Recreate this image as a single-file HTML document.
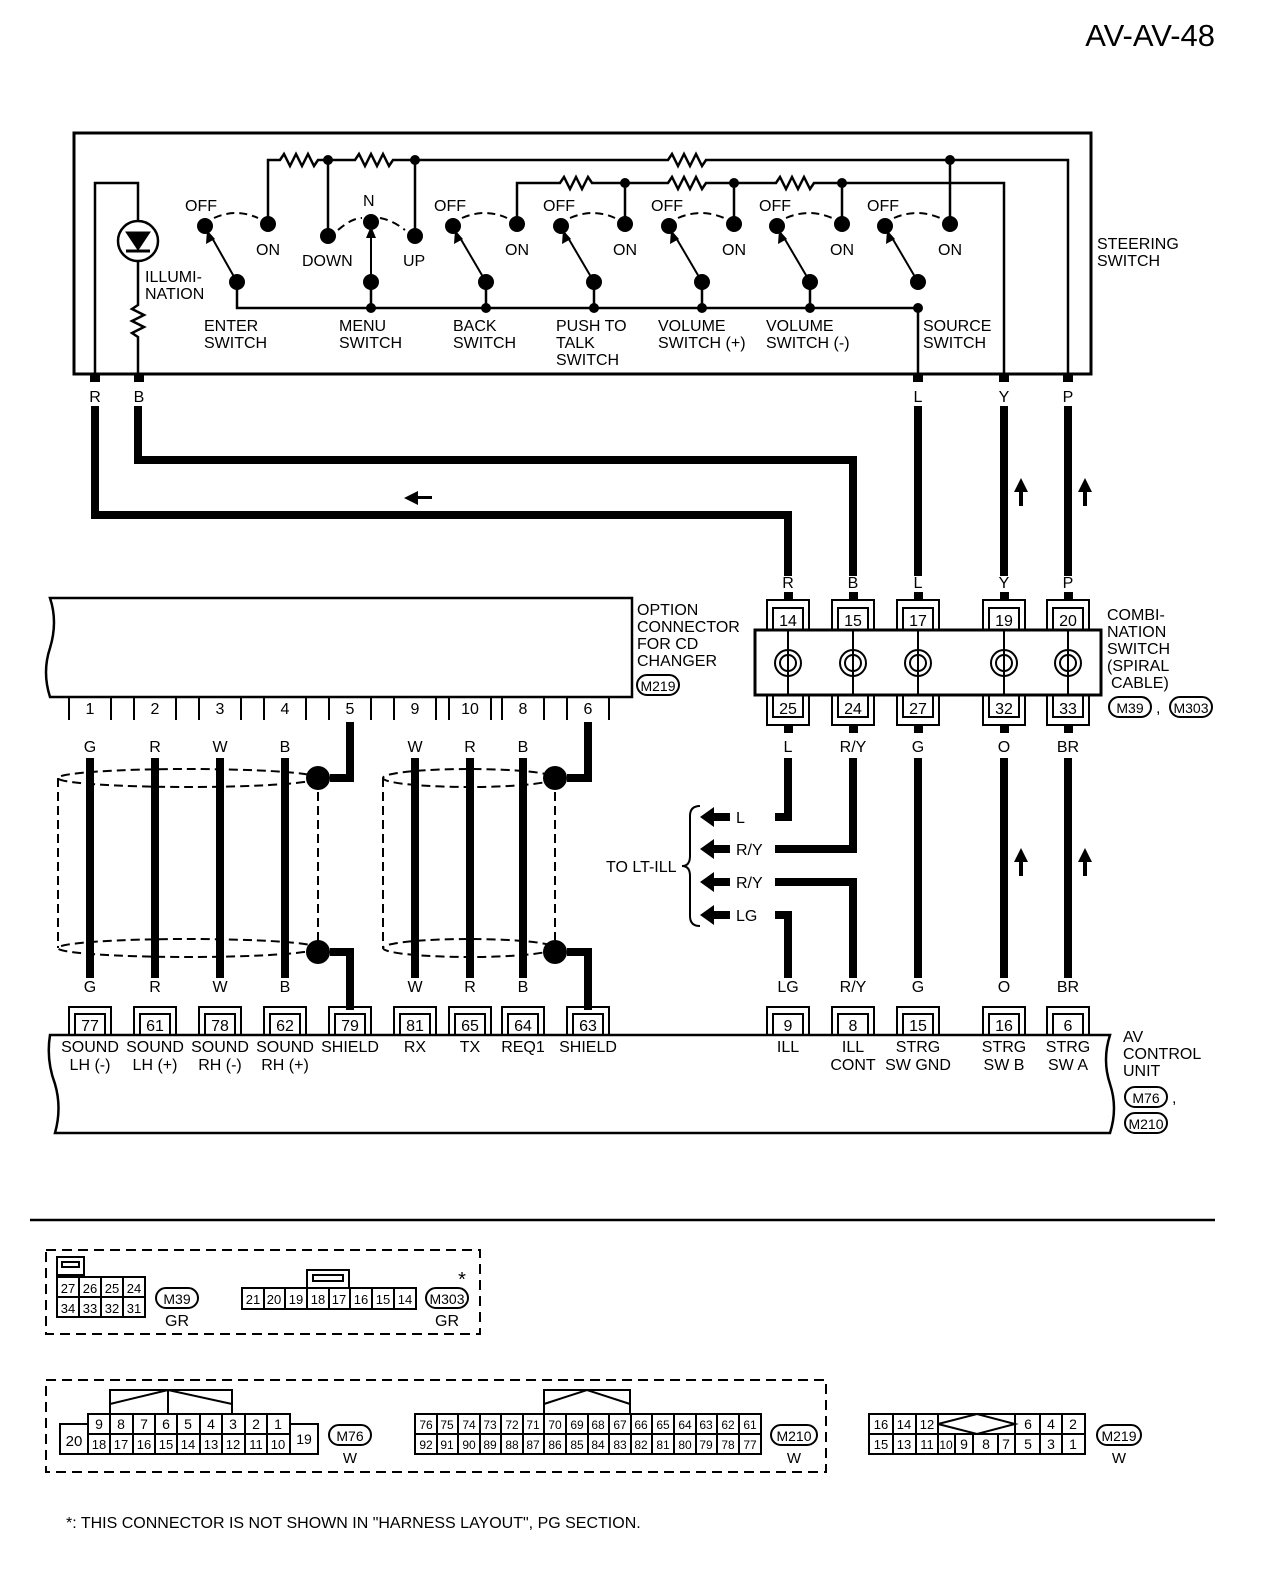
<!DOCTYPE html>
<html><head><meta charset="utf-8"><style>
html,body{margin:0;padding:0;background:#fff}
svg{display:block}
text{font-family:"Liberation Sans",sans-serif;font-size:16px;fill:#000}
</style></head><body>
<svg width="1264" height="1596" viewBox="0 0 1264 1596" xmlns="http://www.w3.org/2000/svg">
<g stroke="#000" fill="none">
<text x="1215" y="46" text-anchor="end" style="font-size:31px" stroke="none">AV-AV-48</text>

<!-- steering switch box -->
<rect x="74" y="133" width="1017" height="241" stroke-width="3"/>
<g stroke-width="2.5">
<path d="M268,224 V160 H280 l4,-6 6,12 6,-12 6,12 6,-12 6,12 4,-6 H355 l4,-6 6,12 6,-12 6,12 6,-12 6,12 4,-6 H668 l4,-6 6,12 6,-12 6,12 6,-12 6,12 4,-6 H1068 V374"/>
<path d="M328,236 V160 M415,236 V160 M950,224 V160"/>
<path d="M517,224 V183 H560 l4,-6 6,12 6,-12 6,12 6,-12 4,6 H668 l4,-6 6,12 6,-12 6,12 6,-12 6,12 4,-6 H776 l4,-6 6,12 6,-12 6,12 6,-12 6,12 4,-6 H1004 V374"/>
<path d="M625,224 V183 M734,224 V183 M842,224 V183"/>
<path d="M237,282 V308 H918 V374 M371,282 V308 M486,282 V308 M594,282 V308 M702,282 V308 M810,282 V308"/>
<path d="M95,374 V183 H138 V221 M138,261 V305 l-6,4 12,6 -12,6 12,6 -12,6 6,4 V374"/>
<circle cx="138" cy="241" r="20"/>
</g>
<path d="M126,232 H150 L138,250 Z" fill="#000"/>
<path d="M126,251 H150" stroke-width="3"/>
<g fill="#000" stroke="none">
<circle cx="205" cy="226" r="8"/><circle cx="268" cy="224" r="8"/><circle cx="237" cy="282" r="8"/>
<circle cx="328" cy="236" r="8"/><circle cx="371" cy="222" r="8"/><circle cx="415" cy="236" r="8"/><circle cx="371" cy="282" r="8"/>
<circle cx="453" cy="226" r="8"/><circle cx="517" cy="224" r="8"/><circle cx="486" cy="282" r="8"/>
<circle cx="561" cy="226" r="8"/><circle cx="625" cy="224" r="8"/><circle cx="594" cy="282" r="8"/>
<circle cx="669" cy="226" r="8"/><circle cx="734" cy="224" r="8"/><circle cx="702" cy="282" r="8"/>
<circle cx="777" cy="226" r="8"/><circle cx="842" cy="224" r="8"/><circle cx="810" cy="282" r="8"/>
<circle cx="885" cy="226" r="8"/><circle cx="950" cy="224" r="8"/><circle cx="918" cy="282" r="8"/>
<circle cx="328" cy="160" r="5"/><circle cx="415" cy="160" r="5"/><circle cx="950" cy="160" r="5"/>
<circle cx="625" cy="183" r="5"/><circle cx="734" cy="183" r="5"/><circle cx="842" cy="183" r="5"/>
<circle cx="371" cy="308" r="5"/><circle cx="486" cy="308" r="5"/><circle cx="594" cy="308" r="5"/><circle cx="702" cy="308" r="5"/><circle cx="810" cy="308" r="5"/><circle cx="918" cy="308" r="5"/>
</g>
<g stroke-width="2">
<path d="M237,282 L211,236 M371,282 V232 M486,282 L459,236 M594,282 L567,236 M702,282 L675,236 M810,282 L783,236 M918,282 L891,236"/>
<path d="M214,218 Q236,208 258,218 M338,230 Q352,218 362,218 M380,218 Q392,220 405,230 M462,218 Q485,208 507,218 M570,218 Q593,208 615,218 M678,218 Q701,208 724,218 M786,218 Q809,208 832,218 M894,218 Q917,208 940,218" stroke-dasharray="8,5"/>
</g>
<g fill="#000" stroke="none">
<path d="M207,230 l-1,14 9,-5Z M371,226 l-5,12 h10Z M455,230 l-1,14 9,-5Z M563,230 l-1,14 9,-5Z M671,230 l-1,14 9,-5Z M779,230 l-1,14 9,-5Z M887,230 l-1,14 9,-5Z"/>
</g>
<g stroke="none">
<text x="185" y="211">OFF</text><text x="256" y="255">ON</text>
<text x="363" y="206">N</text><text x="302" y="266">DOWN</text><text x="403" y="266">UP</text>
<text x="434" y="211">OFF</text><text x="505" y="255">ON</text>
<text x="543" y="211">OFF</text><text x="613" y="255">ON</text>
<text x="651" y="211">OFF</text><text x="722" y="255">ON</text>
<text x="759" y="211">OFF</text><text x="830" y="255">ON</text>
<text x="867" y="211">OFF</text><text x="938" y="255">ON</text>
<text x="145" y="282">ILLUMI-</text><text x="145" y="299">NATION</text>
<text x="204" y="331">ENTER</text><text x="204" y="348">SWITCH</text>
<text x="339" y="331">MENU</text><text x="339" y="348">SWITCH</text>
<text x="453" y="331">BACK</text><text x="453" y="348">SWITCH</text>
<text x="556" y="331">PUSH TO</text><text x="556" y="348">TALK</text><text x="556" y="365">SWITCH</text>
<text x="658" y="331">VOLUME</text><text x="658" y="348">SWITCH (+)</text>
<text x="766" y="331">VOLUME</text><text x="766" y="348">SWITCH (-)</text>
<text x="923" y="331">SOURCE</text><text x="923" y="348">SWITCH</text>
<text x="1097" y="249">STEERING</text><text x="1097" y="266">SWITCH</text>
<text x="95" y="402" text-anchor="middle">R</text><text x="139" y="402" text-anchor="middle">B</text>
<text x="918" y="402" text-anchor="middle">L</text><text x="1004" y="402" text-anchor="middle">Y</text><text x="1068" y="402" text-anchor="middle">P</text>
<text x="788" y="588" text-anchor="middle">R</text><text x="853" y="588" text-anchor="middle">B</text><text x="918" y="588" text-anchor="middle">L</text><text x="1004" y="588" text-anchor="middle">Y</text><text x="1068" y="588" text-anchor="middle">P</text>
</g>
<g fill="#000" stroke="none">
<rect x="90" y="374" width="10" height="8"/><rect x="134" y="374" width="10" height="8"/><rect x="913" y="374" width="10" height="8"/><rect x="999" y="374" width="10" height="8"/><rect x="1063" y="374" width="10" height="8"/>
</g>
<g stroke-width="8">
<path d="M95,406 V515 H788 V576 M138,406 V460 H853 V576 M918,406 V576 M1004,406 V576 M1068,406 V576"/>
</g>
<g fill="#000" stroke="none">
<path d="M404,498 l14,-7 v14 Z"/><rect x="416" y="496" width="16" height="3"/>
<path d="M1021,478 l-7,14 h14Z"/><rect x="1019" y="490" width="4" height="16"/>
<path d="M1085,478 l-7,14 h14Z"/><rect x="1083" y="490" width="4" height="16"/>
<path d="M1021,848 l-7,14 h14Z"/><rect x="1019" y="860" width="4" height="16"/>
<path d="M1085,848 l-7,14 h14Z"/><rect x="1083" y="860" width="4" height="16"/>
</g>

<rect x="755" y="630" width="346" height="65" stroke-width="3"/>
<g stroke-width="2">
<path d="M767,630 V600 H809 V630 M773,630 V608 H803 V630"/>
<path d="M832,630 V600 H874 V630 M838,630 V608 H868 V630"/>
<path d="M897,630 V600 H939 V630 M903,630 V608 H933 V630"/>
<path d="M983,630 V600 H1025 V630 M989,630 V608 H1019 V630"/>
<path d="M1047,630 V600 H1089 V630 M1053,630 V608 H1083 V630"/>
<path d="M767,695 V725 H809 V695 M773,695 V717 H803 V695"/>
<path d="M832,695 V725 H874 V695 M838,695 V717 H868 V695"/>
<path d="M897,695 V725 H939 V695 M903,695 V717 H933 V695"/>
<path d="M983,695 V725 H1025 V695 M989,695 V717 H1019 V695"/>
<path d="M1047,695 V725 H1089 V695 M1053,695 V717 H1083 V695"/>
<circle cx="788" cy="663" r="13"/><circle cx="788" cy="663" r="8"/><path d="M788,630 V695"/>
<circle cx="853" cy="663" r="13"/><circle cx="853" cy="663" r="8"/><path d="M853,630 V695"/>
<circle cx="918" cy="663" r="13"/><circle cx="918" cy="663" r="8"/><path d="M918,630 V695"/>
<circle cx="1004" cy="663" r="13"/><circle cx="1004" cy="663" r="8"/><path d="M1004,630 V695"/>
<circle cx="1068" cy="663" r="13"/><circle cx="1068" cy="663" r="8"/><path d="M1068,630 V695"/>
</g>
<g fill="#000" stroke="none">
<rect x="784" y="592" width="9" height="8"/><rect x="849" y="592" width="9" height="8"/><rect x="914" y="592" width="9" height="8"/><rect x="1000" y="592" width="9" height="8"/><rect x="1064" y="592" width="9" height="8"/>
<rect x="784" y="725" width="9" height="8"/><rect x="849" y="725" width="9" height="8"/><rect x="914" y="725" width="9" height="8"/><rect x="1000" y="725" width="9" height="8"/><rect x="1064" y="725" width="9" height="8"/>
</g>
<g stroke="none" text-anchor="middle">
<text x="788" y="626">14</text><text x="853" y="626">15</text><text x="918" y="626">17</text><text x="1004" y="626">19</text><text x="1068" y="626">20</text>
<text x="788" y="714">25</text><text x="853" y="714">24</text><text x="918" y="714">27</text><text x="1004" y="714">32</text><text x="1068" y="714">33</text>
<text x="788" y="752">L</text><text x="853" y="752">R/Y</text><text x="918" y="752">G</text><text x="1004" y="752">O</text><text x="1068" y="752">BR</text>
</g>
<g stroke="none">
<text x="1107" y="620">COMBI-</text><text x="1107" y="637">NATION</text><text x="1107" y="654">SWITCH</text><text x="1107" y="671">(SPIRAL</text><text x="1111" y="688"> CABLE)</text>
<text x="637" y="615">OPTION</text><text x="637" y="632">CONNECTOR</text><text x="637" y="649">FOR CD</text><text x="637" y="666">CHANGER</text>
</g>
<rect x="637" y="675" width="42" height="20" rx="10" stroke-width="2"/><text x="658" y="691" text-anchor="middle" stroke="none" style="font-size:14px">M219</text>
<rect x="1109" y="697" width="42" height="20" rx="10" stroke-width="2"/><text x="1130" y="713" text-anchor="middle" stroke="none" style="font-size:14px">M39</text>
<text x="1156" y="713" stroke="none">,</text>
<rect x="1170" y="697" width="42" height="20" rx="10" stroke-width="2"/><text x="1191" y="713" text-anchor="middle" stroke="none" style="font-size:14px">M303</text>

<path d="M50,598 H632 V697 H50 Q42,672 50,648 Q58,622 50,598 Z" stroke-width="2.5"/>
<g stroke-width="2">
<path d="M69,697 V720 M111,697 V720 M134,697 V720 M176,697 V720 M199,697 V720 M241,697 V720 M264,697 V720 M306,697 V720 M329,697 V720 M371,697 V720 M394,697 V720 M436,697 V720 M449,697 V720 M491,697 V720 M502,697 V720 M544,697 V720 M567,697 V720 M609,697 V720"/>
</g>
<g stroke="none" text-anchor="middle">
<text x="90" y="714">1</text><text x="155" y="714">2</text><text x="220" y="714">3</text><text x="285" y="714">4</text><text x="350" y="714">5</text><text x="415" y="714">9</text><text x="470" y="714">10</text><text x="523" y="714">8</text><text x="588" y="714">6</text>
<text x="90" y="752">G</text><text x="155" y="752">R</text><text x="220" y="752">W</text><text x="285" y="752">B</text><text x="415" y="752">W</text><text x="470" y="752">R</text><text x="523" y="752">B</text>
<text x="90" y="992">G</text><text x="155" y="992">R</text><text x="220" y="992">W</text><text x="285" y="992">B</text><text x="415" y="992">W</text><text x="470" y="992">R</text><text x="523" y="992">B</text>
<text x="788" y="992">LG</text><text x="853" y="992">R/Y</text><text x="918" y="992">G</text><text x="1004" y="992">O</text><text x="1068" y="992">BR</text>
</g>
<g stroke-width="8">
<path d="M90,758 V978 M155,758 V978 M220,758 V978 M285,758 V978 M415,758 V978 M470,758 V978 M523,758 V978"/>
<path d="M350,722 V778 H330 M588,722 V778 H567 M330,952 H350 V1010 M567,952 H588 V1010"/>
<path d="M788,758 V817 H775 M853,758 V849 H775 M775,882 H853 V978 M775,915 H788 V978 M918,758 V978 M1004,758 V978 M1068,758 V978"/>
</g>
<g stroke-width="2" stroke-dasharray="9,5">
<ellipse cx="188" cy="778" rx="130" ry="9"/><ellipse cx="188" cy="948" rx="130" ry="9"/>
<path d="M58,778 V948 M318,778 V948"/>
<ellipse cx="469" cy="778" rx="86" ry="9"/><ellipse cx="469" cy="948" rx="86" ry="9"/>
<path d="M383,778 V948 M555,778 V948"/>
</g>
<g fill="#000" stroke="none">
<circle cx="318" cy="778" r="12"/><circle cx="318" cy="952" r="12"/><circle cx="555" cy="778" r="12"/><circle cx="555" cy="952" r="12"/>
<path d="M700,817 l14,-10 v20Z M700,849 l14,-10 v20Z M700,882 l14,-10 v20Z M700,915 l14,-10 v20Z"/>
<rect x="712" y="813" width="18" height="8"/><rect x="712" y="845" width="18" height="8"/><rect x="712" y="878" width="18" height="8"/><rect x="712" y="911" width="18" height="8"/>
</g>
<path d="M700,806 Q690,806 690,816 V856 Q690,866 682,866 Q690,866 690,876 V916 Q690,926 700,926" stroke-width="2"/>
<g stroke="none">
<text x="606" y="872">TO LT-ILL</text>
<text x="736" y="823">L</text><text x="736" y="855">R/Y</text><text x="736" y="888">R/Y</text><text x="736" y="921">LG</text>
</g>

<path d="M50,1035 H1110 Q1102,1060 1110,1084 Q1118,1108 1110,1133 H55 Q62,1108 55,1084 Q46,1060 50,1035 Z" stroke-width="2.5"/>
<g stroke-width="2">
<path d="M69,1035 V1007 H111 V1035 M75,1035 V1014 H105 V1035"/>
<path d="M134,1035 V1007 H176 V1035 M140,1035 V1014 H170 V1035"/>
<path d="M199,1035 V1007 H241 V1035 M205,1035 V1014 H235 V1035"/>
<path d="M264,1035 V1007 H306 V1035 M270,1035 V1014 H300 V1035"/>
<path d="M329,1035 V1007 H371 V1035 M335,1035 V1014 H365 V1035"/>
<path d="M394,1035 V1007 H436 V1035 M400,1035 V1014 H430 V1035"/>
<path d="M449,1035 V1007 H491 V1035 M455,1035 V1014 H485 V1035"/>
<path d="M502,1035 V1007 H544 V1035 M508,1035 V1014 H538 V1035"/>
<path d="M567,1035 V1007 H609 V1035 M573,1035 V1014 H603 V1035"/>
<path d="M767,1035 V1007 H809 V1035 M773,1035 V1014 H803 V1035"/>
<path d="M832,1035 V1007 H874 V1035 M838,1035 V1014 H868 V1035"/>
<path d="M897,1035 V1007 H939 V1035 M903,1035 V1014 H933 V1035"/>
<path d="M983,1035 V1007 H1025 V1035 M989,1035 V1014 H1019 V1035"/>
<path d="M1047,1035 V1007 H1089 V1035 M1053,1035 V1014 H1083 V1035"/>
</g>
<g stroke="none" text-anchor="middle">
<text x="90" y="1031">77</text><text x="155" y="1031">61</text><text x="220" y="1031">78</text><text x="285" y="1031">62</text><text x="350" y="1031">79</text><text x="415" y="1031">81</text><text x="470" y="1031">65</text><text x="523" y="1031">64</text><text x="588" y="1031">63</text>
<text x="788" y="1031">9</text><text x="853" y="1031">8</text><text x="918" y="1031">15</text><text x="1004" y="1031">16</text><text x="1068" y="1031">6</text>
<text x="90" y="1052">SOUND</text><text x="90" y="1070">LH (-)</text>
<text x="155" y="1052">SOUND</text><text x="155" y="1070">LH (+)</text>
<text x="220" y="1052">SOUND</text><text x="220" y="1070">RH (-)</text>
<text x="285" y="1052">SOUND</text><text x="285" y="1070">RH (+)</text>
<text x="350" y="1052">SHIELD</text><text x="415" y="1052">RX</text><text x="470" y="1052">TX</text><text x="523" y="1052">REQ1</text><text x="588" y="1052">SHIELD</text>
<text x="788" y="1052">ILL</text>
<text x="853" y="1052">ILL</text><text x="853" y="1070">CONT</text>
<text x="918" y="1052">STRG</text><text x="918" y="1070">SW GND</text>
<text x="1004" y="1052">STRG</text><text x="1004" y="1070">SW B</text>
<text x="1068" y="1052">STRG</text><text x="1068" y="1070">SW A</text>
</g>
<g stroke="none">
<text x="1123" y="1042">AV</text><text x="1123" y="1059">CONTROL</text><text x="1123" y="1076">UNIT</text>
<text x="1172" y="1103">,</text>
</g>
<rect x="1125" y="1087" width="42" height="20" rx="10" stroke-width="2"/><text x="1146" y="1103" text-anchor="middle" stroke="none" style="font-size:14px">M76</text>
<rect x="1125" y="1113" width="42" height="20" rx="10" stroke-width="2"/><text x="1146" y="1129" text-anchor="middle" stroke="none" style="font-size:14px">M210</text>

<path d="M30,1220 H1215" stroke-width="2.5"/>

<rect x="46" y="1250" width="434" height="84" stroke-width="2" stroke-dasharray="10,6"/>
<g stroke-width="2">
<rect x="57" y="1257" width="27" height="18"/><rect x="62" y="1262" width="17" height="5"/>
<rect x="57" y="1277" width="88" height="40"/><path d="M57,1297 H145 M79,1277 V1317 M101,1277 V1317 M123,1277 V1317"/>
<rect x="307" y="1270" width="42" height="18"/><rect x="313" y="1275" width="30" height="6"/>
<rect x="242" y="1288" width="174" height="21"/><path d="M264,1288 V1309 M285,1288 V1309 M307,1288 V1309 M329,1288 V1309 M350,1288 V1309 M372,1288 V1309 M394,1288 V1309"/>
</g>
<g stroke="none" text-anchor="middle" style="font-size:13px">
<text x="68" y="1293" style="font-size:13px">27</text><text x="90" y="1293" style="font-size:13px">26</text><text x="112" y="1293" style="font-size:13px">25</text><text x="134" y="1293" style="font-size:13px">24</text>
<text x="68" y="1313" style="font-size:13px">34</text><text x="90" y="1313" style="font-size:13px">33</text><text x="112" y="1313" style="font-size:13px">32</text><text x="134" y="1313" style="font-size:13px">31</text>
<text x="253" y="1304" style="font-size:13px">21</text><text x="274" y="1304" style="font-size:13px">20</text><text x="296" y="1304" style="font-size:13px">19</text><text x="318" y="1304" style="font-size:13px">18</text><text x="339" y="1304" style="font-size:13px">17</text><text x="361" y="1304" style="font-size:13px">16</text><text x="383" y="1304" style="font-size:13px">15</text><text x="405" y="1304" style="font-size:13px">14</text>
<text x="177" y="1326">GR</text><text x="447" y="1326">GR</text><text x="462" y="1286" style="font-size:20px">*</text>
</g>
<rect x="156" y="1288" width="42" height="20" rx="10" stroke-width="2"/><text x="177" y="1304" text-anchor="middle" stroke="none" style="font-size:14px">M39</text>
<rect x="426" y="1288" width="42" height="20" rx="10" stroke-width="2"/><text x="447" y="1304" text-anchor="middle" stroke="none" style="font-size:14px">M303</text>

<rect x="46" y="1380" width="780" height="92" stroke-width="2" stroke-dasharray="10,6"/>
<g stroke-width="2">
<path d="M110,1414 V1390 H168 V1414 M168,1414 V1390 H232 V1414" /><path d="M110,1404 L168,1390 L232,1404"/>
<rect x="60" y="1424" width="28" height="30"/>
<rect x="88" y="1414" width="202" height="40"/><path d="M88,1434 H290"/>
<path d="M110,1414 V1454 M133,1414 V1454 M155,1414 V1454 M177,1414 V1454 M200,1414 V1454 M222,1414 V1454 M245,1414 V1454 M267,1414 V1454"/>
<rect x="290" y="1424" width="28" height="30"/>
<path d="M544,1414 V1390 H630 V1414"/><path d="M544,1404 L587,1390 L630,1404"/>
<rect x="415" y="1414" width="346" height="40"/><path d="M415,1434 H761"/>
<path d="M437,1414 V1454 M458,1414 V1454 M480,1414 V1454 M501,1414 V1454 M523,1414 V1454 M544,1414 V1454 M566,1414 V1454 M588,1414 V1454 M609,1414 V1454 M631,1414 V1454 M652,1414 V1454 M674,1414 V1454 M696,1414 V1454 M717,1414 V1454 M739,1414 V1454"/>
<rect x="869" y="1414" width="216" height="40"/><path d="M869,1434 H1085"/>
<path d="M893,1414 V1454 M916,1414 V1454 M938,1414 V1434 M1015,1414 V1434 M938,1434 V1454 M955,1434 V1454 M973,1434 V1454 M998,1434 V1454 M1015,1434 V1454 M1040,1414 V1454 M1062,1414 V1454"/>
<path d="M938,1424 L977,1414 L1015,1424 L977,1434 Z"/>
</g>
<g stroke="none" text-anchor="middle" style="font-size:13px">
<text x="74" y="1446" style="font-size:15px">20</text><text x="304" y="1444" style="font-size:14px">19</text>
<text x="99" y="1429" style="font-size:14px">9</text><text x="121" y="1429" style="font-size:14px">8</text><text x="144" y="1429" style="font-size:14px">7</text><text x="166" y="1429" style="font-size:14px">6</text><text x="188" y="1429" style="font-size:14px">5</text><text x="211" y="1429" style="font-size:14px">4</text><text x="233" y="1429" style="font-size:14px">3</text><text x="256" y="1429" style="font-size:14px">2</text><text x="278" y="1429" style="font-size:14px">1</text>
<text x="99" y="1449" style="font-size:13px">18</text><text x="121" y="1449" style="font-size:13px">17</text><text x="144" y="1449" style="font-size:13px">16</text><text x="166" y="1449" style="font-size:13px">15</text><text x="188" y="1449" style="font-size:13px">14</text><text x="211" y="1449" style="font-size:13px">13</text><text x="233" y="1449" style="font-size:13px">12</text><text x="256" y="1449" style="font-size:13px">11</text><text x="278" y="1449" style="font-size:13px">10</text>
<text x="426" y="1429" style="font-size:12px">76</text><text x="447" y="1429" style="font-size:12px">75</text><text x="469" y="1429" style="font-size:12px">74</text><text x="490" y="1429" style="font-size:12px">73</text><text x="512" y="1429" style="font-size:12px">72</text><text x="533" y="1429" style="font-size:12px">71</text><text x="555" y="1429" style="font-size:12px">70</text><text x="577" y="1429" style="font-size:12px">69</text><text x="598" y="1429" style="font-size:12px">68</text><text x="620" y="1429" style="font-size:12px">67</text><text x="641" y="1429" style="font-size:12px">66</text><text x="663" y="1429" style="font-size:12px">65</text><text x="685" y="1429" style="font-size:12px">64</text><text x="706" y="1429" style="font-size:12px">63</text><text x="728" y="1429" style="font-size:12px">62</text><text x="750" y="1429" style="font-size:12px">61</text>
<text x="426" y="1449" style="font-size:12px">92</text><text x="447" y="1449" style="font-size:12px">91</text><text x="469" y="1449" style="font-size:12px">90</text><text x="490" y="1449" style="font-size:12px">89</text><text x="512" y="1449" style="font-size:12px">88</text><text x="533" y="1449" style="font-size:12px">87</text><text x="555" y="1449" style="font-size:12px">86</text><text x="577" y="1449" style="font-size:12px">85</text><text x="598" y="1449" style="font-size:12px">84</text><text x="620" y="1449" style="font-size:12px">83</text><text x="641" y="1449" style="font-size:12px">82</text><text x="663" y="1449" style="font-size:12px">81</text><text x="685" y="1449" style="font-size:12px">80</text><text x="706" y="1449" style="font-size:12px">79</text><text x="728" y="1449" style="font-size:12px">78</text><text x="750" y="1449" style="font-size:12px">77</text>
<text x="881" y="1429" style="font-size:13px">16</text><text x="904" y="1429" style="font-size:13px">14</text><text x="927" y="1429" style="font-size:13px">12</text><text x="1028" y="1429" style="font-size:14px">6</text><text x="1051" y="1429" style="font-size:14px">4</text><text x="1073" y="1429" style="font-size:14px">2</text>
<text x="881" y="1449" style="font-size:13px">15</text><text x="904" y="1449" style="font-size:13px">13</text><text x="927" y="1449" style="font-size:13px">11</text><text x="946" y="1449" style="font-size:12px">10</text><text x="964" y="1449" style="font-size:14px">9</text><text x="986" y="1449" style="font-size:14px">8</text><text x="1006" y="1449" style="font-size:14px">7</text><text x="1028" y="1449" style="font-size:14px">5</text><text x="1051" y="1449" style="font-size:14px">3</text><text x="1073" y="1449" style="font-size:14px">1</text>
<text x="350" y="1463" style="font-size:15px">W</text><text x="794" y="1463" style="font-size:15px">W</text><text x="1119" y="1463" style="font-size:15px">W</text>
</g>
<rect x="329" y="1425" width="42" height="20" rx="10" stroke-width="2"/><text x="350" y="1441" text-anchor="middle" stroke="none" style="font-size:14px">M76</text>
<rect x="771" y="1425" width="46" height="20" rx="10" stroke-width="2"/><text x="794" y="1441" text-anchor="middle" stroke="none" style="font-size:14px">M210</text>
<rect x="1097" y="1425" width="44" height="20" rx="10" stroke-width="2"/><text x="1119" y="1441" text-anchor="middle" stroke="none" style="font-size:14px">M219</text>

<text x="66" y="1528" stroke="none" style="font-size:16px">*: THIS CONNECTOR IS NOT SHOWN IN "HARNESS LAYOUT", PG SECTION.</text>
</g>
</svg>
</body></html>
